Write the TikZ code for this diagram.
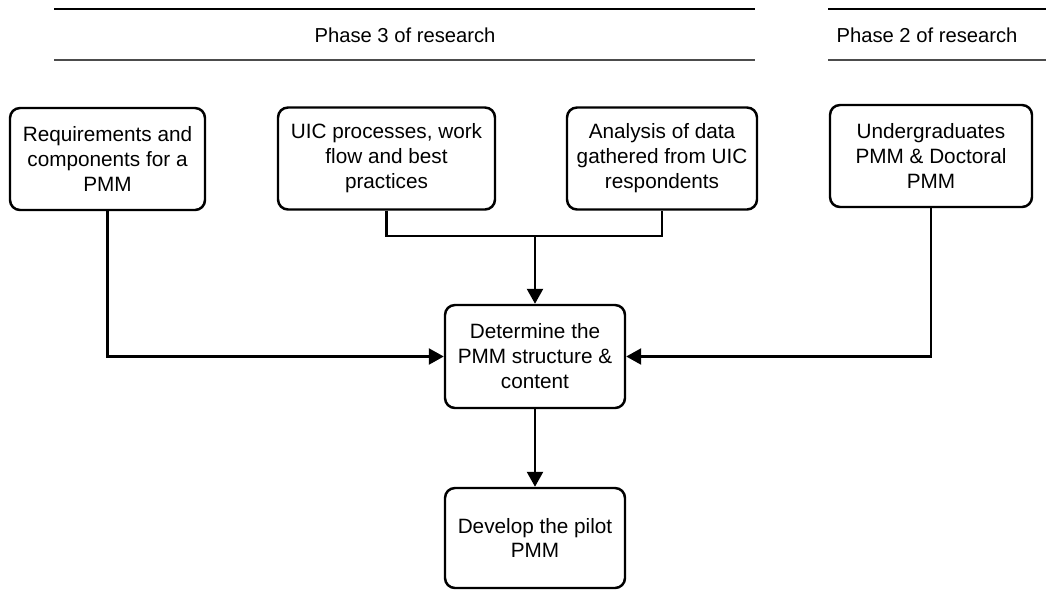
\documentclass[tikz,border=0pt]{standalone}
\usepackage{fontspec}
\setmainfont{Liberation Sans}
\usetikzlibrary{arrows.meta, positioning}

\begin{document}
\begin{tikzpicture}[line width=1.4pt,
    box/.style={draw, rounded corners=0.2cm, align=center, inner sep=0pt,
        font=\fontsize{11.8}{14.2}\selectfont},
    phase/.style={font=\fontsize{11.5}{14.2}\selectfont},
    flow/.style={-{Triangle[length=0.3cm, width=0.32cm]}}]
    % Frame
    \useasboundingbox (0, 0) rectangle (20.92, -11.8);

    % Phase headers
    \draw[line width=0.9pt] (1.08, -0.18) -- (15.1, -0.18);
    \draw[line width=1.1pt, black!70] (1.08, -1.2) -- (15.1, -1.2);
    \node[phase] (ph3) at (8.1, -0.7) {Phase 3 of research};
    \draw[line width=0.9pt] (16.56, -0.18) -- (20.92, -0.18);
    \draw[line width=1.1pt, black!70] (16.56, -1.2) -- (20.92, -1.2);
    \node[phase] (ph2) at (18.54, -0.7) {Phase 2 of research};

    % Inputs
    \node[box, minimum width=3.9cm, minimum height=2.04cm] (req) at (2.15, -3.18)
        {Requirements and\\components for a\\PMM};
    \node[box, minimum width=4.34cm, minimum height=2.04cm] (uic) at (7.73, -3.17)
        {UIC processes, work\\flow and best\\practices};
    \node[box, minimum width=3.8cm, minimum height=2.04cm] (data) at (13.24, -3.17)
        {Analysis of data\\gathered from UIC\\respondents};
    \node[box, minimum width=4.04cm, minimum height=2.04cm] (ug) at (18.62, -3.12)
        {Undergraduates\\PMM \& Doctoral\\PMM};

    % Structure and pilot
    \node[box, minimum width=3.6cm, minimum height=2.06cm] (pmm) at (10.7, -7.13)
        {Determine the\\PMM structure \&\\content};
    \node[box, minimum width=3.6cm, minimum height=2.0cm] (pilot) at (10.7, -10.76)
        {Develop the pilot\\PMM};

    % Connectors
    \coordinate (bus) at (10.7, -4.72);
    \draw (uic.south) |- (bus) -| (data.south);
    \draw[flow] (bus) -- (pmm.north);
    \draw[flow] (req.south) |- (pmm.west);
    \draw[flow] (ug.south) |- (pmm.east);
    \draw[flow] (pmm.south) -- (pilot.north);
\end{tikzpicture}
\end{document}
